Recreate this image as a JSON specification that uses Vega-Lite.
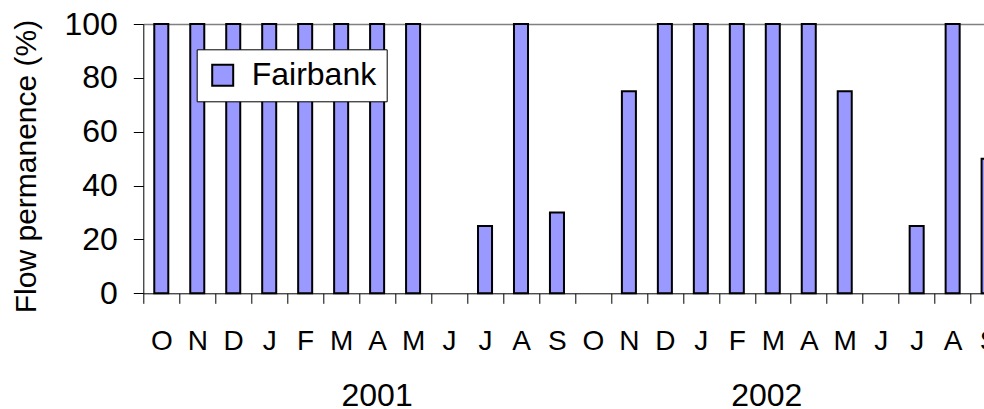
{
  "$schema": "https://vega.github.io/schema/vega-lite/v6.json",
  "width": 840.7,
  "height": 269.3,
  "autosize": {"type": "none"},
  "padding": {"left": 143.3, "top": 24, "right": 0, "bottom": 115.7},
  "background": "white",
  "config": {"view": {"stroke": null}, "font": "Liberation Sans"},
  "data": {"values": [
    {"month": "Oct 2000", "year": "2001", "site": "Fairbank", "pct": 100},
    {"month": "Nov 2000", "year": "2001", "site": "Fairbank", "pct": 100},
    {"month": "Dec 2000", "year": "2001", "site": "Fairbank", "pct": 100},
    {"month": "Jan 2001", "year": "2001", "site": "Fairbank", "pct": 100},
    {"month": "Feb 2001", "year": "2001", "site": "Fairbank", "pct": 100},
    {"month": "Mar 2001", "year": "2001", "site": "Fairbank", "pct": 100},
    {"month": "Apr 2001", "year": "2001", "site": "Fairbank", "pct": 100},
    {"month": "May 2001", "year": "2001", "site": "Fairbank", "pct": 100},
    {"month": "Jun 2001", "year": "2001", "site": "Fairbank", "pct": 0},
    {"month": "Jul 2001", "year": "2001", "site": "Fairbank", "pct": 25},
    {"month": "Aug 2001", "year": "2001", "site": "Fairbank", "pct": 100},
    {"month": "Sep 2001", "year": "2001", "site": "Fairbank", "pct": 30},
    {"month": "Oct 2001", "year": "2002", "site": "Fairbank", "pct": 0},
    {"month": "Nov 2001", "year": "2002", "site": "Fairbank", "pct": 75},
    {"month": "Dec 2001", "year": "2002", "site": "Fairbank", "pct": 100},
    {"month": "Jan 2002", "year": "2002", "site": "Fairbank", "pct": 100},
    {"month": "Feb 2002", "year": "2002", "site": "Fairbank", "pct": 100},
    {"month": "Mar 2002", "year": "2002", "site": "Fairbank", "pct": 100},
    {"month": "Apr 2002", "year": "2002", "site": "Fairbank", "pct": 100},
    {"month": "May 2002", "year": "2002", "site": "Fairbank", "pct": 75},
    {"month": "Jun 2002", "year": "2002", "site": "Fairbank", "pct": 0},
    {"month": "Jul 2002", "year": "2002", "site": "Fairbank", "pct": 25},
    {"month": "Aug 2002", "year": "2002", "site": "Fairbank", "pct": 100},
    {"month": "Sep 2002", "year": "2002", "site": "Fairbank", "pct": 50}
  ]},
  "layer": [
    {
      "mark": {"type": "bar", "stroke": "black", "strokeWidth": 2, "width": {"band": 0.39}},
      "encoding": {
        "x": {
          "field": "month", "type": "nominal", "sort": null,
          "scale": {"range": [0, 863.3], "paddingInner": 0, "paddingOuter": 0},
          "axis": {
            "title": null, "tickBand": "extent",
            "labelExpr": "isString(datum.value) ? substring(datum.value, 0, 1) : ''",
            "labelFontSize": 28, "labelColor": "black", "labelAngle": 0, "labelOverlap": false,
            "labelPadding": 24, "tickSize": 10, "tickColor": "black", "tickWidth": 1,
            "domainColor": "black", "domainWidth": 1, "grid": false
          }
        },
        "y": {
          "field": "pct", "type": "quantitative",
          "scale": {"domain": [0, 100], "nice": false},
          "axis": {
            "title": "Flow permanence (%)", "values": [0, 20, 40, 60, 80, 100],
            "tickSize": 10, "tickColor": "black", "domainColor": "black",
            "labelFontSize": 32, "labelColor": "black", "labelPadding": 16,
            "titleFontSize": 30, "titleFontWeight": "normal", "titleColor": "black",
            "titlePadding": 22, "titleY": 142,
            "grid": true, "gridColor": "#808080", "gridWidth": 1.5,
            "gridOpacity": {"condition": {"test": "datum.value == 100", "value": 1}, "value": 0}
          }
        },
        "color": {
          "field": "site", "type": "nominal",
          "scale": {"range": ["#9999FF"]},
          "legend": {
            "title": null, "orient": "none", "legendX": 53.4, "legendY": 25.3,
            "fillColor": "white", "strokeColor": "black", "padding": 10,
            "labelFontSize": 32, "labelColor": "black", "labelOffset": 13,
            "symbolType": "square", "symbolSize": 441, "symbolStrokeColor": "black", "symbolStrokeWidth": 2
          }
        },
        "strokeOpacity": {"condition": {"test": "datum.pct == 0", "value": 0}, "value": 1}
      }
    },
    {
      "transform": [{"filter": "datum.month == 'Apr 2001'"}],
      "mark": {"type": "text", "fontSize": 32, "baseline": "alphabetic", "align": "center", "color": "black"},
      "encoding": {
        "x": {"field": "month", "type": "nominal", "sort": null},
        "y": {"datum": -42},
        "text": {"field": "year"}
      }
    },
    {
      "transform": [{"filter": "datum.month == 'Mar 2002'"}],
      "mark": {"type": "text", "fontSize": 32, "baseline": "alphabetic", "align": "center", "color": "black", "dx": -6},
      "encoding": {
        "x": {"field": "month", "type": "nominal", "sort": null},
        "y": {"datum": -42},
        "text": {"field": "year"}
      }
    }
  ]
}
